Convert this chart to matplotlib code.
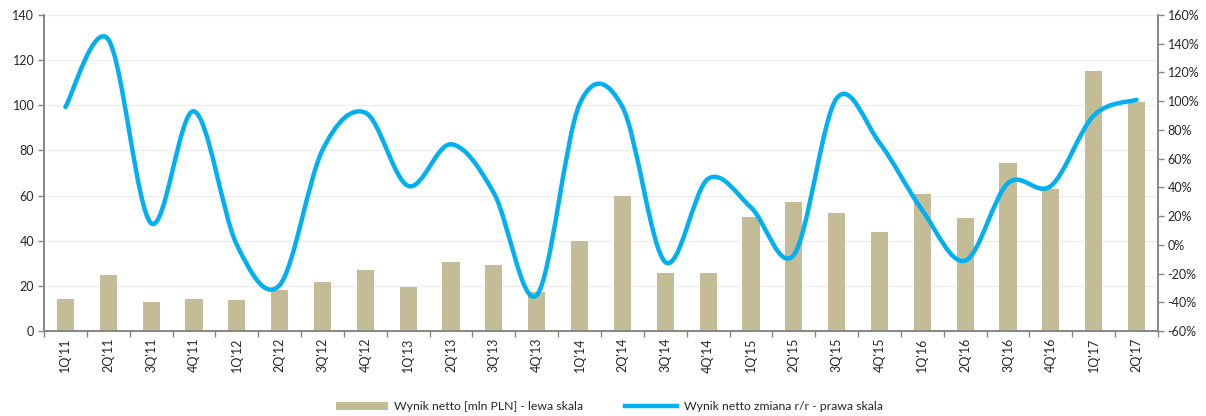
import matplotlib
matplotlib.use("Agg")
import matplotlib.pyplot as plt
from matplotlib.path import Path
from matplotlib.patches import PathPatch, Patch
from matplotlib.lines import Line2D
from matplotlib.ticker import FuncFormatter, MultipleLocator
import numpy as np

plt.rcParams['font.family'] = ['Lato', 'DejaVu Sans']

quarters = ["1Q'11", "2Q'11", "3Q'11", "4Q'11", "1Q'12", "2Q'12", "3Q'12", "4Q'12",
            "1Q'13", "2Q'13", "3Q'13", "4Q'13", "1Q'14", "2Q'14", "3Q'14", "4Q'14",
            "1Q'15", "2Q'15", "3Q'15", "4Q'15", "1Q'16", "2Q'16", "3Q'16", "4Q'16",
            "1Q'17", "2Q'17"]
net_profit = [14.0, 25.0, 13.0, 14.0, 13.8, 18.2, 21.6, 27.0,
              19.6, 30.7, 29.2, 17.4, 39.9, 59.8, 25.8, 25.5,
              50.4, 57.0, 52.4, 44.0, 60.7, 50.2, 74.3, 62.9,
              115.3, 101.3]
yoy_change = [96, 143, 15, 93, 0, -28, 66, 92,
              41, 70, 36, -35, 98, 96, -12, 46,
              26, -7, 102, 71, 24, -11, 43, 41,
              90, 101]

label_bars = "Wynik netto [mln PLN] - lewa skala"
label_line = "Wynik netto zmiana r/r - prawa skala"

bar_color = "#C4BC96"
line_color = "#00B0F0"
axis_color = "#868686"
text_color = "#262626"

fig = plt.figure(figsize=(12.06, 4.16), dpi=100)
ax = fig.add_axes([44 / 1206, 1 - 331 / 416, (1158 - 44) / 1206, (331 - 15) / 416])
ax2 = ax.twinx()

x = np.arange(len(quarters))
ax.bar(x, net_profit, width=0.4, color=bar_color, zorder=2)

ax.set_xlim(-0.5, len(quarters) - 0.5)
ax.set_ylim(0, 140)
ax.yaxis.set_major_locator(MultipleLocator(20))
ax.grid(axis='y', color="#EDEDED", linewidth=0.9, zorder=0)
ax.set_axisbelow(True)

ax2.set_ylim(-60, 160)
ax2.yaxis.set_major_locator(MultipleLocator(20))
ax2.yaxis.set_major_formatter(FuncFormatter(lambda v, p: f"{v:.0f}%"))

# Smoothed line: cubic Bezier segments through each data point
pts = np.column_stack([x, yoy_change]).astype(float)
n = len(pts)
verts = [pts[0]]
codes = [Path.MOVETO]
for i in range(n - 1):
    p0 = pts[i - 1] if i > 0 else pts[i]
    p1 = pts[i]
    p2 = pts[i + 1]
    p3 = pts[i + 2] if i + 2 < n else pts[i + 1]
    c1 = p1 + (p2 - p0) / 6.0
    c2 = p2 - (p3 - p1) / 6.0
    verts += [c1, c2, p2]
    codes += [Path.CURVE4] * 3
curve = PathPatch(Path(verts, codes), facecolor='none', edgecolor=line_color,
                  linewidth=3.2, capstyle='round', joinstyle='round', zorder=3)
ax2.add_patch(curve)

# x axis: labels at category centres, tick marks between categories
ax.set_xticks(x)
ax.set_xticklabels(quarters, rotation=90, fontsize=9, color=text_color)
ax.tick_params(axis='x', which='major', length=0, pad=5)
ax.set_xticks(np.arange(-0.5, len(quarters), 1.0), minor=True)
ax.tick_params(axis='x', which='minor', length=4, color=axis_color, width=1)

ax.tick_params(axis='y', length=4, color=axis_color, width=1, labelsize=9,
               labelcolor=text_color, pad=3)
ax2.tick_params(axis='y', length=4, color=axis_color, width=1, labelsize=9,
                labelcolor=text_color, pad=3)

for a in (ax, ax2):
    a.spines['top'].set_visible(False)
    for s in ('left', 'right', 'bottom'):
        a.spines[s].set_color(axis_color)
        a.spines[s].set_linewidth(1.2)

handles = [Patch(facecolor=bar_color, edgecolor='none'),
           Line2D([0], [0], color=line_color, linewidth=3.2)]
fig.legend(handles, [label_bars, label_line], loc='center', ncol=2,
           bbox_to_anchor=(0.505, 0.022), frameon=False, fontsize=8.8,
           handlelength=4.3, handleheight=0.6, handletextpad=0.5,
           columnspacing=3.4, labelcolor=text_color)

fig.savefig("out.png", dpi=100)
